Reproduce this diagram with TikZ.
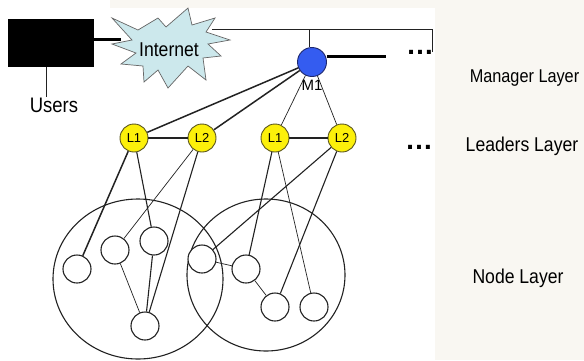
\documentclass[tikz,border=0pt]{standalone}
\usepackage{fontspec}
\setmainfont{Liberation Sans}
\usetikzlibrary{shapes.geometric}
\definecolor{bgbeige}{RGB}{249,247,242}
\definecolor{cloudblue}{RGB}{204,232,236}
\definecolor{leadyellow}{RGB}{252,240,10}
\definecolor{leadedge}{RGB}{90,85,30}
\definecolor{mgrblue}{RGB}{52,92,240}
\definecolor{mgredge}{RGB}{30,40,110}
\definecolor{inkgray}{RGB}{34,34,34}
\begin{document}
\begin{tikzpicture}[x=1pt,y=-1pt,
  lbl/.style={inner sep=0pt, anchor=base, font=\fontsize{20}{22}\selectfont},
  smallnode/.style={circle, draw=inkgray, fill=white, line width=1.1pt, minimum size=28pt, inner sep=0pt},
  leader/.style={circle, draw=leadedge, fill=leadyellow, line width=0.9pt, minimum size=28pt, inner sep=0pt, font=\fontsize{13}{14}\selectfont},
  manager/.style={circle, draw=mgredge, fill=mgrblue, line width=0.9pt, minimum size=29pt, inner sep=0pt},
  group/.style={ellipse, draw=inkgray, line width=1.1pt, inner sep=0pt},
  thin/.style={draw=inkgray, line width=0.7pt},
  mid/.style={draw=inkgray, line width=1.1pt},
  thick/.style={draw=inkgray, line width=1.5pt},
  heavy/.style={draw=black, line width=3pt},
  dotsstyle/.style={inner sep=0pt, anchor=base, font=\bfseries\fontsize{28}{30}\selectfont},
]
\useasboundingbox (0,0) rectangle (584,360);
\fill[bgbeige] (0,0) rectangle (584,360);
\fill[white] (0,8) rectangle (435,360);
\fill[white] (0,0) rectangle (110,8);

% users box
\node[fill=black, minimum width=86pt, minimum height=48pt, inner sep=0pt] (box) at (51,43) {};
\coordinate (usersTop) at (46,97);
\draw[thin] (box.south -| usersTop) -- (usersTop);
\node[lbl, font=\fontsize{21}{23}\selectfont] (users) at (54,112) {\scalebox{0.88}[1]{Users}};

% internet starburst
\draw[fill=cloudblue, draw=black!60, line width=0.7pt]
  (112,18) -- (138,30) -- (158,18) -- (166,27) -- (188,8) -- (192,25) -- (215,18)
  -- (206,32) -- (230,40) -- (208,44) -- (221,56) -- (203,58) -- (206,80)
  -- (188,66) -- (168,88) -- (158,70) -- (144,82) -- (143,66) -- (121,64)
  -- (136,53) -- (112,44) -- (132,40) -- cycle;
\node[lbl] (internet) at (169,56) {\scalebox{0.88}[1]{Internet}};
\coordinate (inetLeft) at (121,39);
\coordinate (inetRight) at (212,29);
\draw[heavy] (box.east |- inetLeft) -- (inetLeft);

% manager
\node[manager] (m1) at (312,62) {};
\node[inner sep=0pt, anchor=base, font=\fontsize{15}{16}\selectfont] (m1lbl) at (312,90) {M1};
\coordinate (busM) at (309,29);
\coordinate (busEnd) at (432,29);
\coordinate (busDrop) at (432,52);
\draw[thin] (inetRight) -- (busEnd) -- (busDrop);
\draw[thin] (busM) -- (m1.north -| busM);
\coordinate (mgrLineEnd) at (386,56);
\draw[heavy] (m1.east |- mgrLineEnd) -- (mgrLineEnd);
\node[dotsstyle] (dotsM) at (420,54) {…};
\node[lbl, font=\fontsize{18.5}{20}\selectfont] (mgrLayer) at (524.5,82) {\scalebox{0.88}[1]{Manager Layer}};

% leaders
\node[leader] (l1a) at (134,138) {L1};
\node[leader] (l2a) at (202,138) {L2};
\node[leader] (l1b) at (275,138) {L1};
\node[leader] (l2b) at (342,138) {L2};
\draw[thick] (m1) -- (l1a);
\draw[thick] (m1) -- (l2a);
\draw[thin] (m1) -- (l1b);
\draw[thin] (m1) -- (l2b);
\draw[mid] (l1a) -- (l2a);
\draw[mid] (l1b) -- (l2b);
\node[dotsstyle] (dotsL) at (419,149) {…};
\node[lbl] (leadLayer) at (522,151) {\scalebox{0.88}[1]{Leaders Layer}};

% groups
\node[group, minimum width=170pt, minimum height=160pt] (g1) at (138,279) {};
\node[group, minimum width=158pt, minimum height=152pt] (g2) at (266,275) {};

% small nodes
\node[smallnode] (a1) at (77,269) {};
\node[smallnode] (a2) at (115,250) {};
\node[smallnode] (a3) at (154,241) {};
\node[smallnode] (a4) at (145,326) {};
\node[smallnode] (b1) at (202,259) {};
\node[smallnode] (b2) at (246,269) {};
\node[smallnode] (b3) at (275,307) {};
\node[smallnode] (b4) at (314,307) {};

\draw[thick] (l1a) -- (a1);
\draw[mid] (l1a) -- (a3);
\draw[thin] (l2a) -- (a2);
\draw[mid] (l2a) -- (a4);
\draw[thin] (a2) -- (a4);
\draw[mid] (a3) -- (a4);
\draw[mid] (l1b) -- (b2);
\draw[thin] (l1b) -- (b4);
\draw[mid] (l2b) -- (b1);
\draw[mid] (l2b) -- (b3);
\draw[thin] (b1) -- (b2);
\draw[thin] (b2) -- (b3);

\node[lbl] (nodeLayer) at (518,283) {\scalebox{0.88}[1]{Node Layer}};
\end{tikzpicture}
\end{document}
